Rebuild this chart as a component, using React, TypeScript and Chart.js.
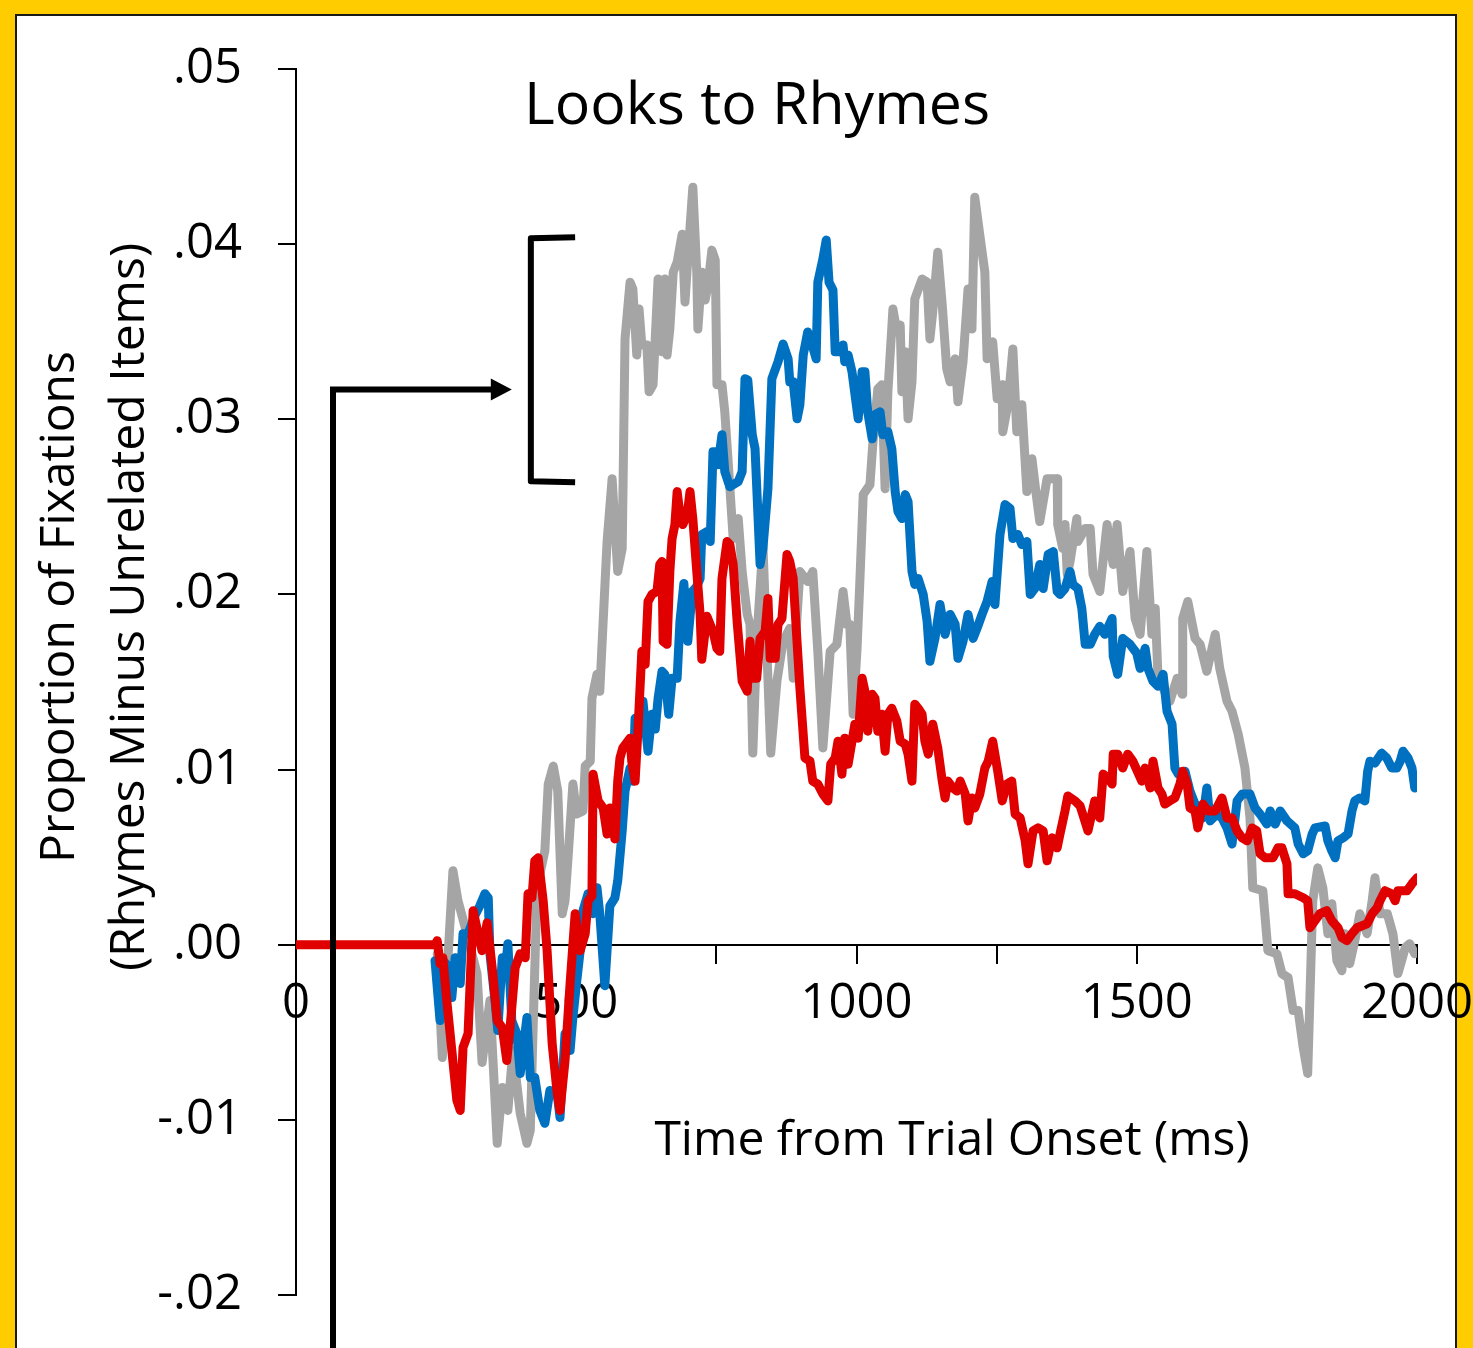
import React, { useEffect, useRef } from 'react';
import { Chart, registerables } from 'chart.js';

Chart.register(...registerables);

// ---------- data (time in ms, proportion of fixations) ----------
const grayTimes = [252, 261, 280, 289, 302, 323, 332, 346, 359, 368, 378, 387, 400, 412, 418, 430, 444, 450, 459, 467, 475, 480, 485, 494, 501, 512, 516, 525, 528, 537, 542, 548, 555, 564, 574, 582, 587, 596, 601, 608, 612, 617, 626, 630, 637, 646, 653, 658, 662, 667, 673, 680, 689, 694, 699, 708, 715, 717, 724, 730, 735, 742, 748, 751, 760, 765, 771, 780, 789, 796, 805, 810, 815, 822, 833, 847, 858, 869, 881, 887, 899, 913, 922, 931, 940, 953, 965, 976, 983, 988, 994, 1001, 1006, 1012, 1024, 1029, 1038, 1045, 1051, 1056, 1065, 1072, 1078, 1081, 1087, 1092, 1099, 1104, 1117, 1126, 1131, 1136, 1145, 1153, 1161, 1167, 1176, 1181, 1190, 1199, 1206, 1211, 1220, 1229, 1233, 1243, 1251, 1260, 1261, 1270, 1279, 1286, 1295, 1304, 1313, 1320, 1327, 1340, 1358, 1359, 1368, 1372, 1376, 1381, 1393, 1395, 1408, 1417, 1422, 1434, 1447, 1458, 1465, 1475, 1488, 1497, 1506, 1518, 1527, 1533, 1538, 1559, 1572, 1581, 1582, 1591, 1604, 1613, 1625, 1640, 1648, 1661, 1670, 1681, 1693, 1702, 1707, 1725, 1734, 1750, 1759, 1770, 1779, 1788, 1797, 1805, 1814, 1823, 1832, 1841, 1848, 1857, 1866, 1871, 1880, 1889, 1898, 1911, 1920, 1925, 1934, 1947, 1957, 1966, 1979, 1987, 1996];
const grayValues = [-0.00051, -0.00644, 0.00422, 0.00251, 0.00097, -0.00165, -0.00672, -0.00319, -0.01134, -0.00815, -0.00946, -0.00604, -0.00963, -0.01134, -0.0106, 0.00325, 0.00536, 0.00917, 0.0102, 0.00877, 0.00177, 0.00251, 0.00479, 0.00917, 0.00746, 0.00764, 0.0102, 0.01048, 0.01407, 0.01544, 0.01447, 0.01846, 0.02302, 0.02661, 0.02131, 0.02262, 0.03459, 0.03783, 0.03744, 0.03367, 0.0363, 0.03424, 0.03424, 0.03157, 0.03197, 0.03801, 0.03385, 0.03801, 0.03367, 0.03516, 0.0384, 0.03897, 0.04057, 0.0367, 0.03915, 0.04325, 0.0384, 0.03516, 0.0384, 0.03681, 0.03766, 0.03966, 0.03909, 0.03197, 0.03197, 0.03043, 0.02758, 0.02319, 0.02433, 0.02131, 0.01886, 0.01829, 0.01094, 0.01732, 0.02285, 0.01094, 0.01504, 0.01732, 0.01806, 0.01521, 0.02131, 0.02074, 0.02131, 0.01675, 0.01123, 0.01675, 0.01715, 0.02017, 0.01829, 0.01829, 0.01316, 0.01692, 0.02074, 0.0257, 0.02627, 0.02855, 0.03174, 0.03197, 0.02604, 0.03157, 0.0363, 0.03499, 0.03538, 0.03157, 0.03385, 0.03003, 0.03214, 0.03687, 0.03801, 0.03783, 0.03459, 0.03613, 0.03954, 0.03652, 0.03288, 0.03214, 0.03345, 0.031, 0.03328, 0.03744, 0.03516, 0.04268, 0.04051, 0.0384, 0.03345, 0.03442, 0.03117, 0.03197, 0.02929, 0.03083, 0.03402, 0.02929, 0.03083, 0.02587, 0.02775, 0.02587, 0.02416, 0.02661, 0.02661, 0.02399, 0.02262, 0.02399, 0.02114, 0.02188, 0.02433, 0.02302, 0.02376, 0.02376, 0.02114, 0.02017, 0.02399, 0.02171, 0.02399, 0.02017, 0.02245, 0.01863, 0.01772, 0.02245, 0.01772, 0.0192, 0.01521, 0.0139, 0.01521, 0.0143, 0.01863, 0.0196, 0.01749, 0.01715, 0.01561, 0.01772, 0.01578, 0.0139, 0.01333, 0.01202, 0.01009, 0.00724, 0.00325, 0.00308, -0.00034, -0.00051, -0.00165, -0.00188, -0.00376, -0.00376, -0.00587, -0.00735, 0.00251, 0.00439, 0.00325, 0.00063, 0.00234, -0.00091, -0.00148, 0.00063, -0.00108, 0.00023, 0.00177, 0.00063, 0.00251, 0.00382, 0.00177, 0.00177, 0.00063, -0.00165, -0.00017, 0.00006, -0.00051];

const blueTimes = [248, 257, 262, 275, 278, 284, 293, 298, 307, 319, 328, 337, 343, 346, 355, 360, 368, 373, 378, 385, 394, 400, 412, 418, 426, 435, 444, 453, 466, 471, 480, 489, 494, 501, 507, 512, 521, 530, 537, 542, 551, 560, 569, 574, 582, 587, 596, 601, 605, 614, 619, 628, 635, 641, 646, 653, 658, 665, 671, 680, 685, 692, 699, 707, 715, 721, 724, 733, 739, 744, 751, 753, 760, 765, 774, 789, 796, 801, 806, 814, 819, 828, 833, 842, 849, 860, 869, 878, 881, 887, 894, 899, 905, 913, 921, 928, 931, 940, 946, 951, 958, 962, 974, 976, 979, 985, 992, 1003, 1010, 1015, 1020, 1028, 1033, 1042, 1047, 1056, 1063, 1069, 1074, 1081, 1087, 1092, 1099, 1104, 1110, 1119, 1126, 1131, 1140, 1149, 1158, 1167, 1176, 1181, 1190, 1199, 1208, 1215, 1224, 1233, 1242, 1247, 1256, 1265, 1274, 1279, 1288, 1295, 1304, 1310, 1318, 1327, 1333, 1342, 1351, 1358, 1363, 1372, 1381, 1386, 1395, 1402, 1408, 1417, 1425, 1434, 1443, 1456, 1458, 1466, 1475, 1488, 1500, 1506, 1515, 1520, 1529, 1538, 1547, 1554, 1563, 1568, 1574, 1586, 1595, 1604, 1618, 1625, 1631, 1643, 1652, 1661, 1670, 1679, 1688, 1702, 1711, 1720, 1732, 1738, 1747, 1756, 1768, 1782, 1788, 1797, 1805, 1813, 1818, 1836, 1841, 1848, 1854, 1859, 1868, 1877, 1884, 1889, 1898, 1907, 1912, 1916, 1925, 1937, 1946, 1955, 1964, 1970, 1975, 1984, 1991, 1996];
const blueValues = [-0.00091, -0.00433, -0.00091, -0.00131, -0.00302, -0.00074, -0.00222, 0.00063, 0.00063, 0.00165, 0.00222, 0.00291, 0.00268, -0.00051, -0.00319, -0.0049, -0.00074, -0.00165, 0.00006, -0.00433, -0.00507, -0.00735, -0.00416, -0.00758, -0.00758, -0.00946, -0.0102, -0.00832, -0.00849, -0.00986, -0.00507, -0.00604, -0.00416, -0.00205, -0.00034, 0.00194, 0.00291, 0.00177, 0.00325, 0.00177, -0.00234, 0.00222, 0.00268, 0.00365, 0.0065, 0.00877, 0.01009, 0.00934, 0.01293, 0.01276, 0.0139, 0.01105, 0.01316, 0.01231, 0.01407, 0.01561, 0.01544, 0.01316, 0.01521, 0.01521, 0.01846, 0.02063, 0.01732, 0.02017, 0.02046, 0.02091, 0.02342, 0.02359, 0.02302, 0.02815, 0.02815, 0.02741, 0.02912, 0.02701, 0.02615, 0.02644, 0.02701, 0.03231, 0.03225, 0.02912, 0.02832, 0.02171, 0.02262, 0.02604, 0.03231, 0.03328, 0.0343, 0.03345, 0.03214, 0.03214, 0.03003, 0.03083, 0.03367, 0.03499, 0.03424, 0.03345, 0.03783, 0.03915, 0.04023, 0.03783, 0.03738, 0.03385, 0.03385, 0.03424, 0.03328, 0.03367, 0.03271, 0.03003, 0.03271, 0.03271, 0.03043, 0.02889, 0.03026, 0.03043, 0.02912, 0.02929, 0.02832, 0.02587, 0.02473, 0.02433, 0.0257, 0.0253, 0.02131, 0.02057, 0.02091, 0.02, 0.01846, 0.01618, 0.01749, 0.01943, 0.01772, 0.01886, 0.01829, 0.01635, 0.01732, 0.01886, 0.01749, 0.01806, 0.01886, 0.0196, 0.02074, 0.01943, 0.02342, 0.02513, 0.0249, 0.02319, 0.02342, 0.02285, 0.02302, 0.02, 0.02034, 0.02171, 0.02034, 0.02228, 0.02245, 0.02017, 0.02, 0.02034, 0.02131, 0.02057, 0.02034, 0.0192, 0.01715, 0.01715, 0.01772, 0.01818, 0.01772, 0.01863, 0.01647, 0.01544, 0.01749, 0.01715, 0.01664, 0.01578, 0.01692, 0.01578, 0.01504, 0.01476, 0.01544, 0.01333, 0.01259, 0.01009, 0.00974, 0.00991, 0.00877, 0.00803, 0.00724, 0.00895, 0.00707, 0.00746, 0.00724, 0.00667, 0.00575, 0.00821, 0.0086, 0.0086, 0.00781, 0.00746, 0.00689, 0.00764, 0.00689, 0.00764, 0.00707, 0.00667, 0.00575, 0.00519, 0.00536, 0.00632, 0.00667, 0.00678, 0.00593, 0.00536, 0.00496, 0.00593, 0.0061, 0.00632, 0.00764, 0.00821, 0.00838, 0.00821, 0.00991, 0.01048, 0.01037, 0.01094, 0.01066, 0.01009, 0.01009, 0.01048, 0.01105, 0.01066, 0.01009, 0.00895];

const redTimes = [0, 248, 252, 257, 262, 269, 278, 287, 293, 298, 307, 316, 325, 332, 341, 350, 359, 368, 376, 382, 391, 400, 409, 414, 421, 426, 432, 441, 448, 457, 466, 471, 480, 489, 498, 507, 516, 521, 528, 530, 539, 548, 555, 560, 569, 574, 578, 583, 596, 599, 605, 610, 617, 623, 628, 635, 644, 649, 653, 655, 662, 667, 671, 676, 680, 685, 690, 698, 703, 708, 715, 721, 724, 733, 744, 751, 756, 760, 769, 774, 780, 787, 796, 805, 810, 815, 822, 828, 837, 842, 846, 855, 860, 867, 876, 881, 887, 899, 908, 917, 922, 931, 940, 949, 954, 962, 967, 974, 979, 985, 992, 997, 1003, 1010, 1015, 1020, 1028, 1033, 1038, 1045, 1051, 1056, 1063, 1072, 1078, 1087, 1092, 1099, 1104, 1110, 1117, 1122, 1128, 1136, 1145, 1153, 1158, 1163, 1172, 1179, 1185, 1194, 1199, 1206, 1211, 1220, 1229, 1235, 1243, 1252, 1260, 1268, 1277, 1283, 1292, 1301, 1306, 1315, 1324, 1333, 1340, 1349, 1358, 1363, 1372, 1377, 1390, 1399, 1413, 1425, 1434, 1440, 1449, 1456, 1458, 1466, 1475, 1484, 1493, 1509, 1515, 1524, 1529, 1538, 1545, 1550, 1559, 1568, 1577, 1582, 1590, 1595, 1604, 1609, 1618, 1627, 1640, 1652, 1661, 1670, 1679, 1688, 1697, 1706, 1714, 1720, 1729, 1743, 1752, 1759, 1768, 1770, 1782, 1797, 1805, 1809, 1818, 1827, 1839, 1848, 1859, 1866, 1875, 1884, 1893, 1911, 1920, 1929, 1934, 1943, 1955, 1961, 1966, 1982, 1991, 2000];
const redValues = [0, 0, 0.00023, -0.00108, -0.00074, -0.00319, -0.00604, -0.00889, -0.00946, -0.00587, -0.00507, 0.00194, 0.00063, -0.00034, 0.00125, -0.00131, -0.00433, -0.00473, -0.00661, -0.00473, -0.00131, -0.00051, -0.00074, 0.00291, 0.00268, 0.00479, 0.00496, 0.00251, -0.00034, -0.00564, -0.00849, -0.00946, -0.00661, -0.00222, 0.00177, -0.00034, 0.00063, 0.00251, 0.00279, 0.00974, 0.00821, 0.00781, 0.00632, 0.00781, 0.00604, 0.00934, 0.01066, 0.01123, 0.01179, 0.01048, 0.00934, 0.01219, 0.01675, 0.01601, 0.0196, 0.02, 0.02017, 0.02171, 0.02188, 0.01732, 0.01715, 0.02131, 0.02319, 0.02399, 0.02587, 0.02456, 0.02399, 0.02456, 0.02587, 0.02433, 0.02131, 0.01886, 0.0163, 0.01875, 0.01789, 0.01692, 0.01675, 0.02091, 0.02302, 0.02285, 0.02171, 0.01846, 0.01504, 0.01447, 0.01732, 0.01521, 0.01521, 0.01749, 0.01789, 0.01977, 0.01635, 0.01635, 0.01829, 0.01863, 0.02228, 0.02188, 0.02091, 0.01464, 0.01066, 0.01048, 0.00934, 0.00917, 0.0086, 0.00821, 0.01031, 0.01066, 0.01162, 0.00974, 0.01179, 0.01031, 0.01162, 0.01259, 0.01179, 0.01521, 0.01447, 0.01219, 0.0143, 0.01407, 0.01219, 0.01316, 0.01105, 0.01316, 0.0135, 0.01276, 0.01162, 0.01145, 0.01088, 0.00934, 0.01373, 0.0135, 0.01316, 0.01162, 0.01088, 0.01259, 0.01123, 0.00934, 0.00838, 0.00934, 0.00895, 0.00877, 0.00934, 0.0086, 0.00707, 0.00838, 0.00781, 0.0086, 0.01009, 0.01048, 0.01162, 0.00991, 0.00821, 0.00917, 0.00934, 0.00746, 0.00724, 0.00593, 0.00462, 0.0065, 0.00667, 0.0065, 0.00479, 0.0061, 0.00553, 0.00632, 0.00764, 0.00849, 0.00821, 0.00792, 0.0065, 0.00821, 0.00724, 0.00974, 0.00952, 0.00917, 0.01088, 0.01088, 0.01009, 0.01088, 0.01048, 0.00934, 0.01009, 0.00895, 0.01048, 0.00895, 0.0086, 0.00803, 0.00821, 0.00838, 0.00917, 0.00991, 0.00917, 0.00781, 0.00764, 0.00667, 0.00803, 0.00764, 0.00764, 0.00838, 0.00724, 0.00724, 0.0065, 0.0061, 0.00593, 0.00667, 0.0065, 0.00519, 0.00496, 0.00496, 0.00553, 0.00553, 0.00462, 0.00291, 0.00291, 0.00268, 0.00251, 0.00097, 0.00137, 0.00177, 0.00194, 0.00137, 0.00097, 0.0004, 0.00023, 0.00063, 0.00097, 0.0012, 0.00177, 0.00211, 0.00251, 0.00308, 0.00291, 0.00251, 0.00308, 0.00308, 0.00348, 0.00382];

const xLabelledTicks = [0, 500, 1000, 1500, 2000];
const chartTitle = 'Looks to Rhymes';
const xAxisTitle = 'Time from Trial Onset (ms)';
const yAxisTitle = ['Proportion of Fixations', '(Rhymes Minus Unrelated Items)'];

const GRAY = '#A5A5A5';
const BLUE = '#0070C0';
const RED = '#E00000';
const FONT = "'Open Sans', 'Noto Sans', sans-serif";
const LINE_WIDTH = 9;

const fmtY = (v: number) => {
  if (Math.abs(v) < 1e-9) return '.00';
  return (v < 0 ? '-' : '') + Math.abs(v).toFixed(2).replace(/^0/, '');
};

const toPoints = (ts: number[], vs: number[]) => ts.map((t, i) => ({ x: t, y: vs[i] }));

export default function App() {
  const ref = useRef<HTMLCanvasElement>(null);

  useEffect(() => {
    document.body.style.margin = '0';
    const canvas = ref.current!;

    const decor = {
      id: 'decor',
      afterDraw(chart: any) {
        const ctx = chart.ctx as CanvasRenderingContext2D;
        const xs = chart.scales.x;
        const ys = chart.scales.y;
        const ca = chart.chartArea;
        ctx.save();
        ctx.fillStyle = '#000';
        ctx.strokeStyle = '#000';

        // arrow
        const ax = xs.getPixelForValue(66);
        const ay = ys.getPixelForValue(0.0317);
        const tip = xs.getPixelForValue(385);
        ctx.lineWidth = 6;
        ctx.lineJoin = 'miter';
        ctx.beginPath();
        ctx.moveTo(ax, chart.height + 5);
        ctx.lineTo(ax, ay);
        ctx.lineTo(tip - 16, ay);
        ctx.stroke();
        ctx.beginPath();
        ctx.moveTo(tip, ay);
        ctx.lineTo(tip - 21, ay - 11);
        ctx.lineTo(tip - 21, ay + 11);
        ctx.closePath();
        ctx.fill();

        // bracket
        const bx = xs.getPixelForValue(419);
        const be = xs.getPixelForValue(498);
        const bt = ys.getPixelForValue(0.0404);
        const bb = ys.getPixelForValue(0.0264);
        ctx.lineWidth = 6;
        ctx.lineJoin = 'round';
        ctx.beginPath();
        ctx.moveTo(be, bt);
        ctx.lineTo(bx, bt + 1);
        ctx.lineTo(bx, bb - 1);
        ctx.lineTo(be, bb);
        ctx.stroke();

        // texts
        ctx.textAlign = 'center';
        ctx.textBaseline = 'alphabetic';
        ctx.font = `59px ${FONT}`;
        ctx.fillText(chartTitle, ca.left + 461, ca.top + 55);

        ctx.font = `48px ${FONT}`;
        ctx.fillText(xAxisTitle, ca.left + 656, ca.top + 1086);

        const midY = ca.top + 538;
        ctx.textBaseline = 'middle';
        ctx.save();
        ctx.translate(ca.left - 236, midY);
        ctx.rotate(-Math.PI / 2);
        ctx.fillText(yAxisTitle[0], 0, 0);
        ctx.restore();
        ctx.save();
        ctx.translate(ca.left - 166, midY);
        ctx.rotate(-Math.PI / 2);
        ctx.fillText(yAxisTitle[1], 0, 0);
        ctx.restore();

        ctx.restore();
      },
    };

    const lineDs = (label: string, ts: number[], vs: number[], color: string, order: number) => ({
      label,
      data: toPoints(ts, vs),
      borderColor: color,
      backgroundColor: color,
      borderWidth: LINE_WIDTH,
      pointRadius: 0,
      tension: 0,
      fill: false,
      order,
      borderJoinStyle: 'round' as const,
      borderCapStyle: 'round' as const,
    });

    const noPad = (s: any) => {
      s.paddingTop = 0;
      s.paddingBottom = 0;
      s.paddingLeft = 0;
      s.paddingRight = 0;
    };

    const chart = new Chart(canvas, {
      type: 'line',
      data: {
        datasets: [
          lineDs('Red', redTimes, redValues, RED, 1),
          lineDs('Blue', blueTimes, blueValues, BLUE, 2),
          lineDs('Gray', grayTimes, grayValues, GRAY, 3),
        ],
      },
      options: {
        animation: false,
        responsive: false,
        devicePixelRatio: 1,
        layout: { padding: { left: 0, top: 69, right: 56, bottom: 53 } },
        elements: { line: { borderWidth: LINE_WIDTH } },
        plugins: {
          legend: { display: false },
          tooltip: { enabled: false },
          title: { display: false },
        },
        scales: {
          x: {
            type: 'linear',
            min: 0,
            max: 2000,
            position: { y: 0 } as any,
            afterFit: (s: any) => { s.height = 0; noPad(s); },
            ticks: {
              stepSize: 250,
              autoSkip: false,
              maxRotation: 0,
              minRotation: 0,
              padding: 12,
              color: '#000',
              font: { family: FONT, size: 49 },
              callback: (v: any) => (xLabelledTicks.includes(Number(v)) ? String(v) : ''),
            },
            grid: { drawOnChartArea: false, drawTicks: true, tickLength: 18, color: '#000', lineWidth: 2 },
            border: { display: true, color: '#000', width: 2 },
          },
          y: {
            type: 'linear',
            min: -0.02,
            max: 0.05,
            afterFit: (s: any) => { s.width = 296; noPad(s); },
            ticks: {
              stepSize: 0.01,
              padding: 36,
              color: '#000',
              font: { family: FONT, size: 49 },
              callback: (v: any) => fmtY(Number(v)),
            },
            grid: { drawOnChartArea: false, drawTicks: true, tickLength: 18, color: '#000', lineWidth: 2 },
            border: { display: true, color: '#000', width: 2 },
          },
        },
      },
      plugins: [decor],
    });

    return () => chart.destroy();
  }, []);

  return (
    <div style={{ position: 'relative', width: 1473, height: 1348, background: '#FFCC00', overflow: 'hidden' }}>
      <div
        style={{
          position: 'absolute',
          left: 15,
          top: 14,
          width: 1442,
          height: 1400,
          background: '#FFFFFF',
          border: '2px solid #1a1a1a',
          boxSizing: 'border-box',
        }}
      />
      <canvas
        ref={ref}
        width={1473}
        height={1348}
        style={{ position: 'absolute', left: 0, top: 0, width: 1473, height: 1348 }}
      />
    </div>
  );
}
